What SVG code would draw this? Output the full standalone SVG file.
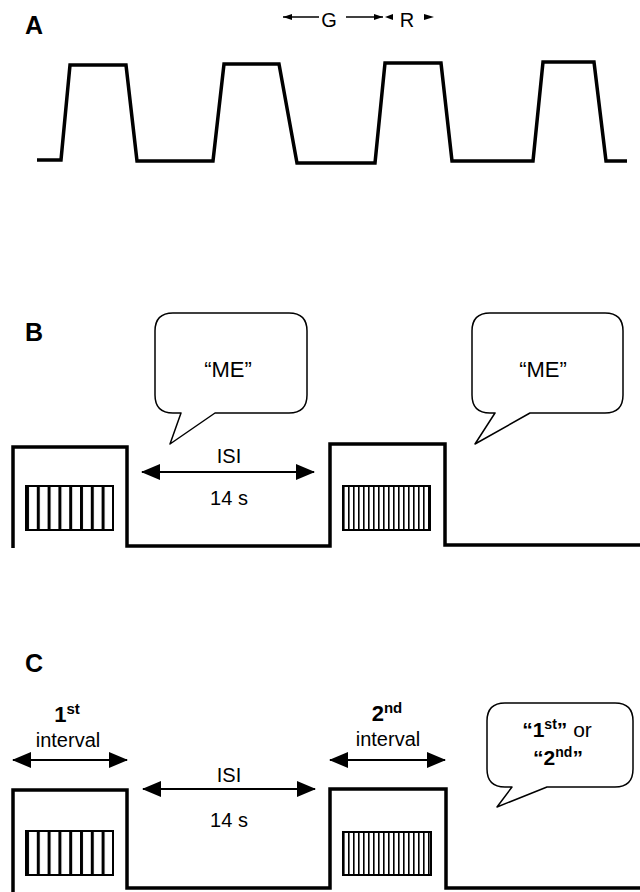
<svg xmlns="http://www.w3.org/2000/svg" width="640" height="892" viewBox="0 0 640 892">
  <defs>
    <style>
      text { font-family: "Liberation Sans", Arial, sans-serif; fill: #000; }
      .panel { font-size: 25px; font-weight: bold; }
      .lbl { font-size: 20px; text-anchor: middle; }
      .big { font-size: 22px; text-anchor: middle; }
      .bub { font-size: 21px; text-anchor: middle; }
      .b { font-weight: bold; }
      .trace { fill: none; stroke: #000; stroke-width: 3.5; stroke-linejoin: miter; }
      .bubble { fill: #fff; stroke: #000; stroke-width: 1.5; stroke-linejoin: round; }
      .dim { stroke: #000; stroke-width: 2; fill: none; }
      .thin { stroke: #000; stroke-width: 1.4; fill: none; }
    </style>
    <marker id="head" viewBox="0 0 19 16" refX="18" refY="8" markerWidth="19" markerHeight="16" markerUnits="userSpaceOnUse" orient="auto-start-reverse">
      <path d="M0,0 L19,8 L0,16 Z" fill="#000"/>
    </marker>
    <marker id="tiny" viewBox="0 0 9 6" refX="9" refY="3" markerWidth="9" markerHeight="6" markerUnits="userSpaceOnUse" orient="auto-start-reverse">
      <path d="M0,0 L9,3 L0,6 Z" fill="#000"/>
    </marker>
    <!-- coarse grating: wide white bars -->
    <pattern id="coarse" x="26" y="0" width="10.8" height="10" patternUnits="userSpaceOnUse">
      <rect x="0" y="0" width="10.8" height="10" fill="#fff"/>
      <rect x="0" y="0" width="3" height="10" fill="#000"/>
    </pattern>
    <!-- fine grating: narrow bars -->
    <pattern id="fine" x="343" y="0" width="5" height="10" patternUnits="userSpaceOnUse">
      <rect x="0" y="0" width="5" height="10" fill="#fff"/>
      <rect x="0" y="0" width="1.6" height="10" fill="#000"/>
    </pattern>
  </defs>

  <!-- Panel A -->
  <g id="panel-a">
    <text class="panel" x="25" y="34">A</text>
    <g id="gr-label">
      <text class="lbl" x="329" y="27">G</text>
      <text class="lbl" x="407" y="27">R</text>
    </g>
    <path id="waveform" class="trace" d="M37,160 L61,160 L70,65 L126,65 L137,161 L213,161 L224,64 L279,64 L297,163 L375,163 L385,63 L441,63 L452,161 L533,161 L543,62 L594,62 L606,161 L627,161"/>
  </g>

  <!-- Panel B -->
  <g id="panel-b">
    <text class="panel" x="25" y="341">B</text>
    <g id="b-trial">
      <path class="trace" d="M13,548 L13,447 L127,447 L127,546 L330,546 L330,444 L445,444 L445,545 L640,545" stroke-width="3"/>
    </g>
    <g id="b-grating-1">
      <rect x="26" y="486" width="87" height="44" fill="url(#coarse)" stroke="#000" stroke-width="2"/>
    </g>
    <g id="b-grating-2">
      <rect x="343" y="486" width="87" height="44" fill="url(#fine)" stroke="#000" stroke-width="2"/>
    </g>
    <g id="b-bubble-1">
      <path class="bubble" d="M173,313 L289,313 Q307,313 307,331 L307,395 Q307,413 289,413 L215,413 L170,444 L181,413 L173,413 Q155,413 155,395 L155,331 Q155,313 173,313 Z"/>
      <text class="big" x="228" y="377">“ME”</text>
    </g>
    <g id="b-bubble-2">
      <path class="bubble" d="M490,313 L605,313 Q623,313 623,331 L623,395 Q623,413 605,413 L530,413 L475,444 L495,413 L490,413 Q472,413 472,395 L472,331 Q472,313 490,313 Z"/>
      <text class="big" x="543" y="377">“ME”</text>
    </g>
    <g id="b-isi">
      <text class="lbl" x="229" y="463">ISI</text>
      <text class="lbl" x="229" y="505">14 s</text>
    </g>
  </g>

  <!-- Panel C -->
  <g id="panel-c">
    <text class="panel" x="25" y="672">C</text>
    <g id="c-trial">
      <path class="trace" d="M13,892 L13,790 L127,790 L127,888 L330,888 L330,789 L446,789 L446,888 L640,888" stroke-width="3"/>
    </g>
    <g id="c-grating-1">
      <rect x="26" y="831" width="87" height="44" fill="url(#coarse)" stroke="#000" stroke-width="2"/>
    </g>
    <g id="c-grating-2">
      <rect x="343" y="832" width="88" height="43" fill="url(#fine)" stroke="#000" stroke-width="2"/>
    </g>
    <g id="c-first">
      <text class="big b" x="67" y="722">1<tspan font-size="15" dy="-8">st</tspan></text>
      <text class="lbl" x="68" y="747">interval</text>
    </g>
    <g id="c-second">
      <text class="big b" x="387" y="721">2<tspan font-size="15" dy="-8">nd</tspan></text>
      <text class="lbl" x="388" y="746">interval</text>
    </g>
    <g id="c-isi">
      <text class="lbl" x="229" y="782">ISI</text>
      <text class="lbl" x="229" y="827">14 s</text>
    </g>
    <g id="c-bubble">
      <path class="bubble" d="M505,703 L615,703 Q633,703 633,721 L633,769 Q633,787 615,787 L547,787 L497,807 L512,787 L505,787 Q487,787 487,769 L487,721 Q487,703 505,703 Z"/>
      <text class="bub" x="557" y="737"><tspan class="b">“1<tspan font-size="14" dy="-8">st</tspan><tspan dy="8">”</tspan></tspan>  or</text>
      <text class="bub b" x="558" y="765">“2<tspan font-size="14" dy="-8">nd</tspan><tspan dy="8">”</tspan></text>
    </g>
  </g>

  <!-- Connectors: interval arrows -->
  <g id="connectors">
    <line class="thin" x1="283" y1="17" x2="319" y2="17" marker-start="url(#tiny)"/>
    <line class="thin" x1="346" y1="17" x2="383" y2="17" marker-end="url(#tiny)"/>
    <path d="M393,14 L385,17 L393,20 Z" fill="#000"/>
    <path d="M424,14 L434,17 L424,20 Z" fill="#000"/>
    <line class="dim" x1="142" y1="472" x2="314" y2="472" marker-start="url(#head)" marker-end="url(#head)"/>
    <line class="dim" x1="143" y1="789" x2="315" y2="789" marker-start="url(#head)" marker-end="url(#head)"/>
    <line class="dim" x1="13" y1="760" x2="127" y2="760" marker-start="url(#head)" marker-end="url(#head)"/>
    <line class="dim" x1="330" y1="760" x2="445" y2="760" marker-start="url(#head)" marker-end="url(#head)"/>
  </g>
</svg>
